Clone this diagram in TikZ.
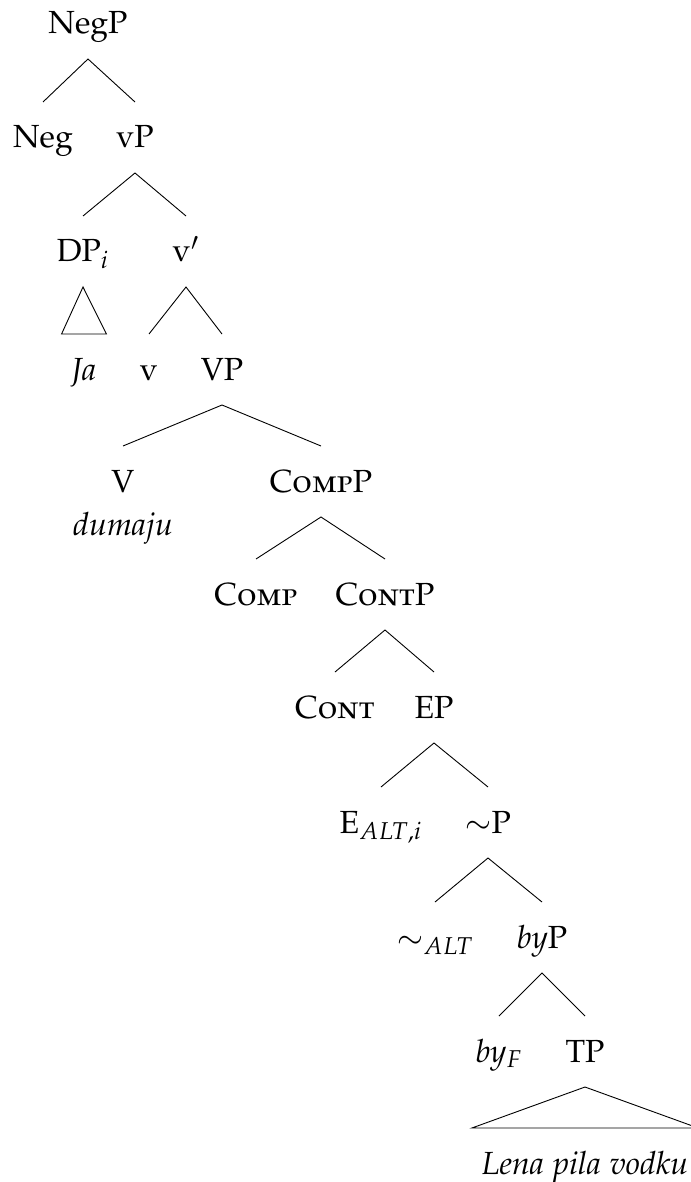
\documentclass[tikz,border=0pt]{standalone}
\usepackage[T1]{fontenc}
\usepackage[sc]{mathpazo}
\begin{document}
\begin{tikzpicture}[
  x=0.5pt, y=-0.5pt,
  cat/.style={
    anchor=base,
    font=\fontsize{16}{19}\selectfont,
    inner xsep=5pt,
    inner ysep=0pt,
    text height=10.5pt,
    text depth=0pt,
    outer xsep=0pt,
    outer ysep=12.5pt
  },
  branch/.style={line width=0.45pt}
]
\useasboundingbox (0,0) rectangle (690,1182);

\node[cat] (negp) at (88,34) {NegP};
\node[cat] (neg) at (43,148) {Neg};
\node[cat] (vp) at (135,148) {vP};
\node[cat] (dp) at (83,262) {DP$_i$};
\node[cat] (vbar) at (186,262) {v$'$};
\node[cat] (ja) at (84,380) {\textit{Ja}};
\node[cat] (vhead) at (149,380) {v};
\node[cat] (bigvp) at (222,380) {VP};
\node[cat] (verb) at (123,492) {V};
\node[cat] (dumaju) at (123,535) {\textit{dumaju}};
\node[cat] (compp) at (321,492) {\textsc{Comp}P};
\node[cat] (comp) at (256,605) {\textsc{Comp}};
\node[cat] (contp) at (385,605) {\textsc{Cont}P};
\node[cat] (cont) at (335,718) {\textsc{Cont}};
\node[cat] (ep) at (434,718) {EP};
\node[cat] (ealt) at (381,833) {E$_{ALT,i}$};
\node[cat] (simp) at (488,833) {$\sim$P};
\node[cat] (simalt) at (435,948) {$\sim_{ALT}$};
\node[cat] (byp) at (542,948) {\textit{by}P};
\node[cat] (byf) at (499,1062) {\textit{by}$_F$};
\node[cat] (tp) at (585,1062) {TP};
\node[cat] (lena) at (585,1174) {\textit{Lena pila vodku}};

\draw[branch] (neg.north) -- (negp.south) -- (vp.north);
\draw[branch] (dp.north) -- (vp.south) -- (vbar.north);
\draw[branch] (dp.south) -- (ja.north west) -- (ja.north east) -- cycle;
\draw[branch] (vhead.north) -- (vbar.south) -- (bigvp.north);
\draw[branch] (verb.north) -- (bigvp.south) -- (compp.north);
\draw[branch] (comp.north) -- (compp.south) -- (contp.north);
\draw[branch] (cont.north) -- (contp.south) -- (ep.north);
\draw[branch] (ealt.north) -- (ep.south) -- (simp.north);
\draw[branch] (simalt.north) -- (simp.south) -- (byp.north);
\draw[branch] (byf.north) -- (byp.south) -- (tp.north);
\draw[branch] (tp.south) -- (lena.north west) -- (lena.north east) -- cycle;
\end{tikzpicture}
\end{document}
